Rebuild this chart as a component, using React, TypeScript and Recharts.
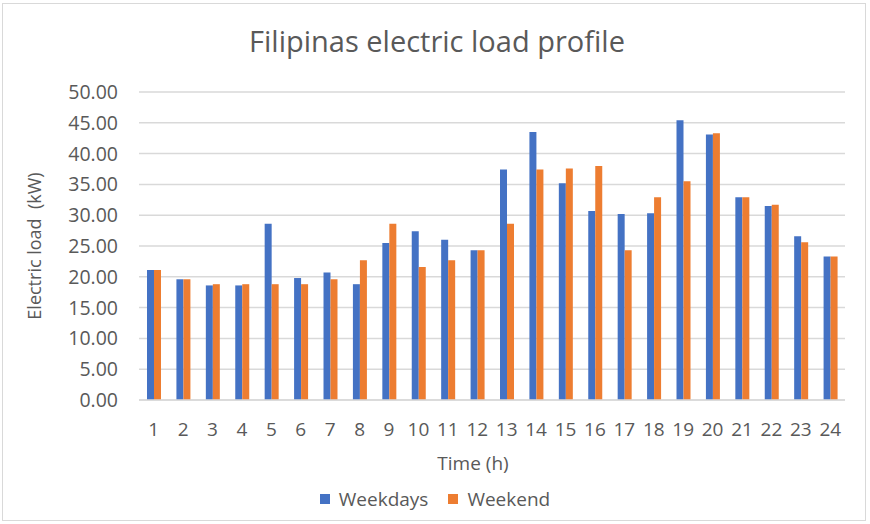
import { Bar, BarChart, CartesianGrid, XAxis, YAxis } from "recharts";

const WEEKDAY_COLOR = "#4472C4"; // blue
const WEEKEND_COLOR = "#ED7D31"; // orange
const TEXT_COLOR = "#595959";
const GRID_COLOR = "#d9d9d9";
const FONT = "'Open Sans', 'Liberation Sans', sans-serif";

const hours = [
  "1", "2", "3", "4", "5", "6", "7", "8", "9", "10", "11", "12",
  "13", "14", "15", "16", "17", "18", "19", "20", "21", "22", "23", "24",
];
const weekdays = [
  21.1, 19.6, 18.6, 18.6, 28.6, 19.8, 20.7, 18.8, 25.5, 27.4, 26.0, 24.3,
  37.4, 43.5, 35.2, 30.7, 30.2, 30.3, 45.4, 43.1, 32.9, 31.5, 26.6, 23.3,
];
const weekend = [
  21.1, 19.6, 18.8, 18.8, 18.8, 18.8, 19.6, 22.7, 28.6, 21.6, 22.7, 24.3,
  28.6, 37.4, 37.6, 38.0, 24.3, 32.9, 35.5, 43.3, 32.9, 31.7, 25.6, 23.3,
];
const yTicks = [0, 5, 10, 15, 20, 25, 30, 35, 40, 45, 50];

const data = hours.map((hour, i) => ({
  hour,
  weekdays: weekdays[i],
  weekend: weekend[i],
}));

function YTitle({ viewBox }: any) {
  const cy = viewBox.y + viewBox.height / 2;
  return (
    <text
      x={41}
      y={cy}
      transform={`rotate(-90, 41, ${cy})`}
      textAnchor="middle"
      fill={TEXT_COLOR}
      fontSize={18}
      fontFamily={FONT}
      style={{ whiteSpace: "pre" }}
    >
      {"Electric load\u00a0 (kW)"}
    </text>
  );
}

function XTitle() {
  return (
    <text x={473} y={470} textAnchor="middle" fill={TEXT_COLOR} fontSize={19} fontFamily={FONT}>
      Time (h)
    </text>
  );
}

function LegendItem({ color, label }: { color: string; label: string }) {
  return (
    <div style={{ display: "flex", alignItems: "center", gap: 9 }}>
      <span style={{ width: 10, height: 10, background: color, display: "inline-block" }} />
      <span>{label}</span>
    </div>
  );
}

export default function App() {
  return (
    <div
      style={{
        position: "absolute",
        left: 0,
        top: 0,
        width: 870,
        height: 524,
        background: "#fff",
        fontFamily: FONT,
      }}
    >
      <div
        style={{
          position: "absolute",
          left: 2,
          top: 3,
          width: 864,
          height: 518,
          border: `1px solid ${GRID_COLOR}`,
          boxSizing: "border-box",
        }}
      />
      <div
        style={{
          position: "absolute",
          top: 21,
          left: 0,
          width: 874,
          textAlign: "center",
          fontSize: 29,
          color: TEXT_COLOR,
        }}
      >
        Filipinas electric load profile
      </div>
      <div style={{ position: "absolute", top: 0, left: 0 }}>
        <BarChart
          width={870}
          height={524}
          data={data}
          margin={{ top: 92, right: 25, left: 0, bottom: 84 }}
          barGap={0}
          barSize={7}
        >
          <CartesianGrid vertical={false} stroke={GRID_COLOR} strokeWidth={1.5} />
          <XAxis
            dataKey="hour"
            height={40}
            tickLine={false}
            tickSize={0}
            tickMargin={23}
            axisLine={{ stroke: GRID_COLOR, strokeWidth: 1.5 }}
            tick={{ fill: TEXT_COLOR, fontSize: 19, fontFamily: FONT }}
            interval={0}
            label={<XTitle />}
          />
          <YAxis
            width={139}
            domain={[0, 50]}
            ticks={yTicks}
            tickFormatter={(v: number) => v.toFixed(2)}
            tickLine={false}
            axisLine={false}
            tickSize={0}
            tickMargin={21}
            tick={{ fill: TEXT_COLOR, fontSize: 19.5, fontFamily: FONT }}
            label={<YTitle />}
          />
          <Bar dataKey="weekdays" fill={WEEKDAY_COLOR} isAnimationActive={false} />
          <Bar dataKey="weekend" fill={WEEKEND_COLOR} isAnimationActive={false} />
        </BarChart>
      </div>
      <div
        style={{
          position: "absolute",
          top: 486,
          left: 0,
          width: 870,
          display: "flex",
          justifyContent: "center",
          gap: 20,
          fontSize: 19,
          color: TEXT_COLOR,
        }}
      >
        <LegendItem color={WEEKDAY_COLOR} label="Weekdays" />
        <LegendItem color={WEEKEND_COLOR} label="Weekend" />
      </div>
    </div>
  );
}
